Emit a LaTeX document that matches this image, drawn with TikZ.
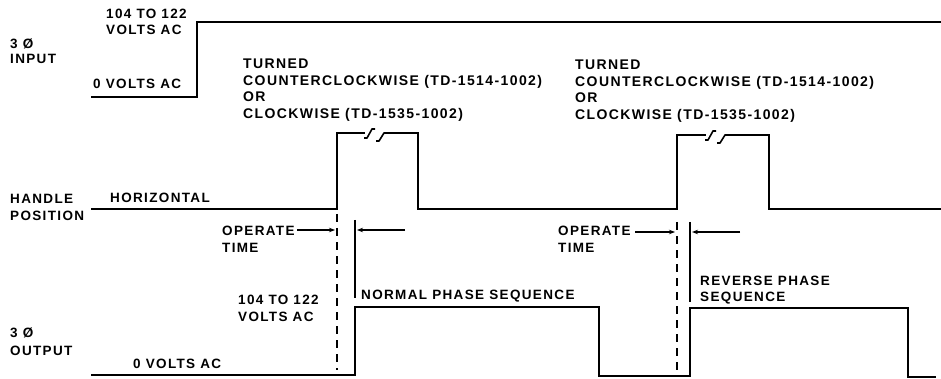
\documentclass[tikz,border=0pt]{standalone}
\usepackage{fontspec}
\setmainfont{Liberation Sans}[LetterSpace=10]
\usetikzlibrary{arrows.meta}
\tikzset{
  lbl/.style={anchor=base west, inner sep=0pt, font=\fontsize{13.5}{16}\selectfont\bfseries},
  lblw/.style={lbl, font=\fontsize{14}{16}\selectfont\bfseries},
  wave/.style={line width=2pt, line join=miter},
  dsh/.style={line width=1.6pt, dash pattern=on 8pt off 6pt},
  endline/.style={line width=1.5pt},
  arr/.style={line width=1.2pt, -{Stealth[length=6pt,width=4.5pt]}},
  brk/.style={line width=1.6pt, line join=round}
}
\begin{document}
\begin{tikzpicture}[x=1pt,y=-1pt]
\useasboundingbox (0,0) rectangle (941,379);
% ---------- input ----------
\node[lbl] (in1) at (106,19) {104 TO 122};
\node[lbl] (in2) at (106,35) {VOLTS AC};
\node[lbl] (in3) at (10,49) {3 Ø};
\node[lbl] (in4) at (10,64) {INPUT};
\node[lbl] (in5) at (93,89) {0 VOLTS AC};
\draw[wave] (91,97) -- (197,97) -- (197,22) -- (941,22);
% ---------- turned labels ----------
\node[lblw] (t1) at (243,69) {TURNED};
\node[lblw] (t2) at (243,86) {COUNTERCLOCKWISE (TD-1514-1002)};
\node[lblw] (t3) at (243,102) {OR};
\node[lblw] (t4) at (243,119) {CLOCKWISE (TD-1535-1002)};
\node[lblw] (u1) at (575,70) {TURNED};
\node[lblw] (u2) at (575,87) {COUNTERCLOCKWISE (TD-1514-1002)};
\node[lblw] (u3) at (575,103) {OR};
\node[lblw] (u4) at (575,120) {CLOCKWISE (TD-1535-1002)};
% ---------- handle ----------
\node[lbl] (h1) at (10,204) {HANDLE};
\node[lbl] (h2) at (10,221) {POSITION};
\node[lbl] (h3) at (110,203) {HORIZONTAL};
\draw[wave] (91,209) -- (337,209) -- (337,133) -- (365,133);
\draw[brk] (364,138) -- (367,138) -- (372,129) -- (375,129);
\draw[brk] (376,141) -- (379,141) -- (384,133) -- (388,133);
\draw[wave] (388,133) -- (418,133) -- (418,209) -- (677,209) -- (677,135) -- (706,135);
\draw[brk] (705,140) -- (708,140) -- (713,131) -- (716,131);
\draw[brk] (717,143) -- (720,143) -- (725,135) -- (729,135);
\draw[wave] (729,135) -- (769,135) -- (769,209) -- (941,209);
% ---------- operate time 1 ----------
\node[lbl] (o1) at (222,235) {OPERATE};
\node[lbl] (o2) at (222,252) {TIME};
\draw[dsh] (337,214) -- (337,370);
\draw[endline] (355,220) -- (355,298);
\coordinate (a1s) at (297,230); \coordinate (a1e) at (335,230);
\coordinate (b1s) at (405,230); \coordinate (b1e) at (357,230);
\draw[arr] (a1s) -- (a1e);
\draw[arr] (b1s) -- (b1e);
% ---------- operate time 2 ----------
\node[lbl] (p1) at (558,235) {OPERATE};
\node[lbl] (p2) at (558,252) {TIME};
\draw[dsh] (677,222) -- (677,372);
\draw[endline] (690,222) -- (690,302);
\coordinate (a2s) at (635,232); \coordinate (a2e) at (675,232);
\coordinate (b2s) at (740,232); \coordinate (b2e) at (692,232);
\draw[arr] (a2s) -- (a2e);
\draw[arr] (b2s) -- (b2e);
% ---------- output ----------
\node[lbl] (v1) at (238,304) {104 TO 122};
\node[lbl] (v2) at (238,321) {VOLTS AC};
\node[lbl] (n1) at (361,299) {NORMAL PHASE SEQUENCE};
\node[lbl] (r1) at (700,285) {REVERSE PHASE};
\node[lbl] (r2) at (700,301) {SEQUENCE};
\node[lbl] (w1) at (10,337) {3 Ø};
\node[lbl] (w2) at (10,355) {OUTPUT};
\node[lbl] (w3) at (133,368) {0 VOLTS AC};
\draw[wave] (91,375) -- (355,375) -- (355,307) -- (599,307) -- (599,376) -- (690,376) -- (690,308) -- (908,308) -- (908,377) -- (936,377);
\end{tikzpicture}
\end{document}
